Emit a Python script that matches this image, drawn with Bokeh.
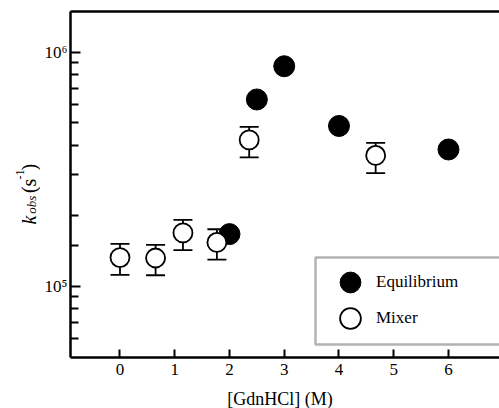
import math
from bokeh.plotting import figure
from bokeh.layouts import row, column
from bokeh.models import (Range1d, FixedTicker, LinearAxis, Label, Legend, LegendItem,
                          CustomJSTickFormatter, ColumnDataSource, BoxAnnotation)
from bokeh.embed import file_html
from bokeh.resources import INLINE

# ---- data ----
eq_x = [2.0, 2.5, 3.0, 4.0, 6.0]
eq_k = [1.67e5, 6.28e5, 8.71e5, 4.84e5, 3.84e5]

mix_x = [0.0, 0.65, 1.15, 1.77, 2.36, 4.67]
mix_k = [1.326e5, 1.32e5, 1.69e5, 1.538e5, 4.22e5, 3.62e5]
mix_hi = [1.517e5, 1.502e5, 1.919e5, 1.752e5, 4.8e5, 4.1e5]
mix_lo = [1.118e5, 1.114e5, 1.425e5, 1.3e5, 3.55e5, 3.04e5]

x_ticks = [0, 1, 2, 3, 4, 5, 6]
y_major = [1e5, 1e6]
y_minor = [6e4, 7e4, 8e4, 9e4, 1.5e5, 2e5, 3e5, 4e5, 5e5, 6e5, 7e5, 8e5, 9e5]

FONT = "Liberation Serif"
W = 499
H_TOP = 385
H_BOT = 23
LEFT_W = 40


def blank(width, height):
    f = figure(width=width, height=height, x_range=Range1d(0, width), y_range=Range1d(0, height),
               x_axis_location=None, y_axis_location=None, title=None,
               output_backend="svg", toolbar_location=None,
               min_border_left=0, min_border_right=0, min_border_top=0, min_border_bottom=0)
    f.xgrid.grid_line_color = None
    f.ygrid.grid_line_color = None
    f.outline_line_color = None
    return f


# ---- narrow figure holding the y-axis title ----
f_lab = blank(LEFT_W, H_TOP)
ang = math.pi / 2
SHIFT = 10
parts = [
    ("k", 28, 227, "20px", "italic"),
    ("obs", 30.5, 215, "13px", "italic"),
    ("(s", 28, 192, "20px", "normal"),
    ("-1", 19, 177, "12px", "normal"),
    (")", 28, 167, "20px", "normal"),
]
for t, xx, page_y, fs, st in parts:
    f_lab.add_layout(Label(x=xx, y=H_TOP - page_y - SHIFT, text=t, angle=ang, text_color="black",
                           text_font=FONT, text_font_size=fs, text_font_style=st,
                           text_align="left", text_baseline="alphabetic"))

# ---- bottom strip holding the x-axis title ----
f_xl = blank(W, H_BOT)
f_xl.add_layout(Label(x=279.4, y=9.5, text="[GdnHCl] (M)", text_color="black",
                      text_font=FONT, text_font_size="18px",
                      text_align="center", text_baseline="alphabetic"))

# ---- main figure ----
p = figure(width=W - LEFT_W, height=H_TOP, x_range=Range1d(-0.904, 6.932),
           y_range=Range1d(4.959e4, 1.4925e6), y_axis_type="log", title=None,
           output_backend="svg", toolbar_location=None,
           min_border_left=70 - LEFT_W, min_border_right=0, min_border_top=11,
           min_border_bottom=H_TOP - 357)
p.xgrid.grid_line_color = None
p.ygrid.grid_line_color = None
p.outline_line_color = None

# x axis
xa = p.xaxis[0]
xa.ticker = FixedTicker(ticks=x_ticks)
xa.axis_line_width = 2.5
xa.major_tick_in = 8
xa.major_tick_out = 0
xa.major_tick_line_width = 2
xa.minor_tick_line_color = None
xa.major_label_text_font = FONT
xa.major_label_text_font_size = "17px"
xa.major_label_text_color = "black"
xa.major_label_standoff = 6

# y axis
ya = p.yaxis[0]
ya.ticker = FixedTicker(ticks=y_major, minor_ticks=y_minor)
ya.formatter = CustomJSTickFormatter(code="""
const e = Math.round(Math.log10(tick));
const sup = {"4": "\u2074", "5": "\u2075", "6": "\u2076", "7": "\u2077"};
return "10" + sup[String(e)];
""")
ya.axis_line_width = 2.5
ya.major_tick_in = 10
ya.major_tick_out = 0
ya.minor_tick_in = 8
ya.minor_tick_out = 0
ya.major_tick_line_width = 2
ya.minor_tick_line_width = 2
ya.major_label_text_font = FONT
ya.major_label_text_font_size = "17px"
ya.major_label_text_color = "black"
ya.major_label_standoff = 3

# top border line
top = LinearAxis(ticker=FixedTicker(ticks=[]), axis_line_width=2.5,
                 major_tick_in=0, major_tick_out=0, minor_tick_in=0, minor_tick_out=0,
                 major_label_text_font_size="0px", major_label_standoff=0)
p.add_layout(top, "above")

# ---- marks ----
eq_src = ColumnDataSource(dict(x=eq_x, k=eq_k))
mix_src = ColumnDataSource(dict(x=mix_x, k=mix_k, hi=mix_hi, lo=mix_lo))

r_eq = p.scatter("x", "k", source=eq_src, marker="circle", size=21,
                 fill_color="black", line_color="black", line_width=1)
p.segment(x0="x", y0="lo", x1="x", y1="hi", source=mix_src, line_color="black", line_width=1.8)
p.scatter("x", "hi", source=mix_src, marker="dash", size=19, line_color="black", line_width=1.8)
p.scatter("x", "lo", source=mix_src, marker="dash", size=19, line_color="black", line_width=1.8)
r_mix = p.scatter("x", "k", source=mix_src, marker="circle", size=19,
                  fill_color="white", line_color="black", line_width=1.8)

# ---- legend: framed box + one single-item legend per row ----
box = BoxAnnotation(left=245, right=2000, bottom=13, top=100,
                    left_units="screen", right_units="screen",
                    bottom_units="screen", top_units="screen",
                    fill_color="white", fill_alpha=1.0,
                    line_color="black", line_width=2.5)
p.add_layout(box)

for label, rend, vy in (("Equilibrium", r_eq, 49), ("Mixer", r_mix, 13)):
    lg = Legend(items=[LegendItem(label=label, renderers=[rend])],
                location=(254, vy), orientation="vertical",
                glyph_width=52, glyph_height=52, spacing=0, padding=0, margin=0,
                label_standoff=0, label_text_font=FONT, label_text_font_size="17px",
                label_text_color="black",
                border_line_color=None, background_fill_alpha=0.0)
    p.add_layout(lg, "center")

layout = column(row(f_lab, p), f_xl)
open("out.html", "w").write(file_html(layout, INLINE))
